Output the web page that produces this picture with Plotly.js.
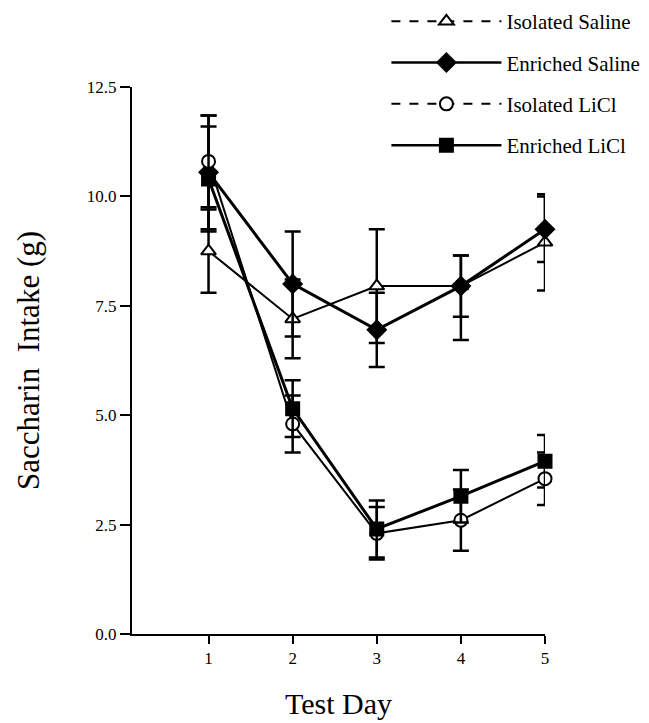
<!DOCTYPE html>
<html>
<head>
<meta charset="utf-8">
<script src="https://cdn.plot.ly/plotly-3.0.1.min.js"></script>
<style>html,body{margin:0;padding:0;background:#fff;}#chart{width:649px;height:723px;}</style>
</head>
<body>
<div id="chart"></div>
<script>
var days = [1, 2, 3, 4, 5];
var seriesNames = ["Isolated Saline", "Enriched Saline", "Isolated LiCl", "Enriched LiCl"];
var isolatedSaline = [8.75, 7.2, 7.95, 7.95, 8.95];
var isolatedSalineErrUp = [0.95, 0.9, 1.3, 0.7, 1.1];
var isolatedSalineErrDown = [0.95, 0.9, 1.3, 1.23, 1.1];
var enrichedSaline = [10.55, 8.0, 6.95, 7.95, 9.25];
var enrichedSalineErr = [1.3, 1.2, 0.85, 0.7, 0.75];
var isolatedLiCl = [10.8, 4.8, 2.3, 2.6, 3.55];
var isolatedLiClErr = [1.05, 0.65, 0.6, 0.7, 0.6];
var enrichedLiCl = [10.4, 5.15, 2.4, 3.15, 3.95];
var enrichedLiClErr = [1.2, 0.65, 0.65, 0.6, 0.6];
var yTicks = [0, 2.5, 5, 7.5, 10, 12.5];

var serif = "Liberation Serif, Times New Roman, serif";

function series(name, y, errUp, errDown, symbol, fill, lw, msize) {
  return {
    x: days, y: y, name: name, type: "scatter", mode: "lines+markers",
    showlegend: false, cliponaxis: false,
    line: {color: "#000", width: lw},
    marker: {symbol: symbol, size: msize, color: fill, line: {color: "#000", width: 2}},
    error_y: {type: "data", symmetric: false, array: errUp, arrayminus: errDown, visible: true, color: "#000", thickness: 2.5, width: 8}
  };
}
function legendItem(name, symbol, fill, dash, lw, msize) {
  return {
    x: [null], y: [null], name: name, type: "scatter", mode: "lines+markers",
    showlegend: true, legendgroup: name,
    line: {color: "#000", width: lw, dash: dash},
    marker: {symbol: symbol, size: msize, color: fill, line: {color: "#000", width: 2}}
  };
}

var data = [
  series(seriesNames[0], isolatedSaline, isolatedSalineErrUp, isolatedSalineErrDown, "triangle-up", "#fff", 2, 13),
  series(seriesNames[1], enrichedSaline, enrichedSalineErr, enrichedSalineErr, "diamond", "#000", 3, 14),
  series(seriesNames[2], isolatedLiCl, isolatedLiClErr, isolatedLiClErr, "circle", "#fff", 2, 13),
  series(seriesNames[3], enrichedLiCl, enrichedLiClErr, enrichedLiClErr, "square", "#000", 3, 13),
  legendItem(seriesNames[0], "triangle-up", "#fff", "dash", 2, 13),
  legendItem(seriesNames[1], "diamond", "#000", "solid", 2.5, 14),
  legendItem(seriesNames[2], "circle", "#fff", "dash", 2, 13),
  legendItem(seriesNames[3], "square", "#000", "solid", 2.5, 13)
];

var layout = {
  width: 649, height: 723,
  margin: {l: 132, r: 104, t: 87, b: 89, autoexpand: false},
  paper_bgcolor: "#fff", plot_bgcolor: "#fff",
  font: {family: serif, color: "#000"},
  showlegend: true,
  legend: {
    x: 0.616, xanchor: "left", y: 1.157, yanchor: "top",
    font: {family: serif, size: 21, color: "#000"},
    tracegroupgap: 11, itemwidth: 110, bgcolor: "rgba(0,0,0,0)"
  },
  xaxis: {
    range: [0.09, 5], tickvals: days, ticktext: days.map(String),
    ticks: "outside", ticklen: 8, tickwidth: 2, tickcolor: "#000",
    showline: true, linewidth: 2, linecolor: "#000",
    showgrid: false, zeroline: false,
    tickfont: {family: serif, size: 17, color: "#000"},
    title: {text: "Test Day", font: {family: serif, size: 30, color: "#000"}, standoff: 26}
  },
  yaxis: {
    range: [0, 12.5], tickvals: yTicks, ticktext: yTicks.map(function(v){return v.toFixed(1);}),
    ticks: "outside", ticklen: 10, tickwidth: 2, tickcolor: "#000",
    showline: true, linewidth: 2, linecolor: "#000",
    showgrid: false, zeroline: false,
    tickfont: {family: serif, size: 17, color: "#000"},
    title: {text: "Saccharin  Intake (g)", font: {family: serif, size: 31, color: "#000"}, standoff: 38}
  }
};

Plotly.newPlot("chart", data, layout, {displayModeBar: false, staticPlot: true});
</script>
</body>
</html>
